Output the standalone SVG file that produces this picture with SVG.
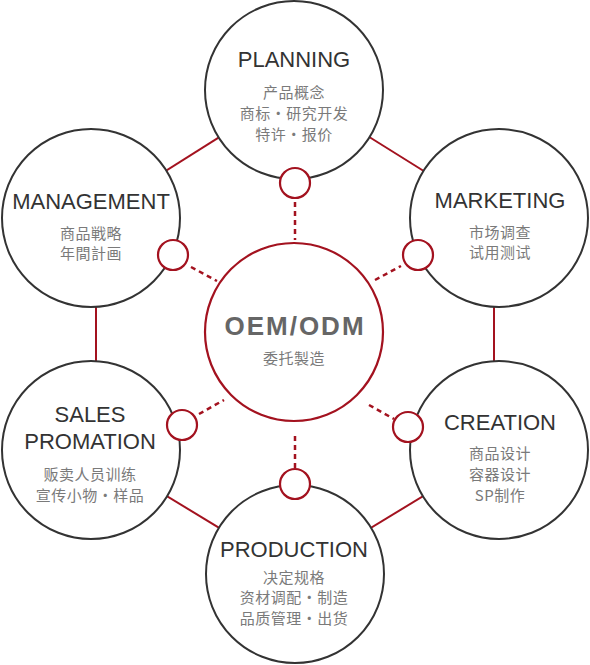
<svg xmlns="http://www.w3.org/2000/svg" width="590" height="665" viewBox="0 0 590 665">
<style>
.bg{fill:#fff}
.node{fill:#fff;stroke:#333;stroke-width:2}
.core{fill:#fff;stroke:#a3121f;stroke-width:2.2}
.dot{fill:#fff;stroke:#a3121f;stroke-width:2.2}
.link{stroke:#a3121f;stroke-width:2;fill:none}
.dash{stroke:#a3121f;stroke-width:2.5;stroke-dasharray:5 4;fill:none}
.title{font-family:"Liberation Sans",Arial,sans-serif;font-size:22px;fill:#333;text-anchor:middle}
.sub{font-family:"Noto Sans CJK SC","Noto Sans CJK JP",sans-serif;font-size:15px;fill:#7a7a7a;text-anchor:middle;letter-spacing:0.5px}
.big{font-family:"Liberation Sans",Arial,sans-serif;font-size:26px;font-weight:bold;fill:#666;text-anchor:middle;letter-spacing:2px}
</style>
<rect class="bg" x="0" y="0" width="590" height="665"/>
<g id="connectors">
<line class="link" x1="294" y1="90" x2="499" y2="218"/>
<line class="link" x1="294" y1="90" x2="91" y2="218"/>
<line class="link" x1="494" y1="290" x2="494" y2="380"/>
<line class="link" x1="96" y1="290" x2="96" y2="380"/>
<line class="link" x1="91" y1="450" x2="295" y2="574"/>
<line class="link" x1="499" y1="450" x2="295" y2="574"/>
<line class="dash" x1="295" y1="202" x2="295" y2="240"/>
<line class="dash" x1="191" y1="267" x2="217" y2="281"/>
<line class="dash" x1="375" y1="280" x2="401" y2="266"/>
<line class="dash" x1="199" y1="414" x2="224" y2="400"/>
<line class="dash" x1="369" y1="405" x2="394" y2="419"/>
<line class="dash" x1="295" y1="436" x2="295" y2="468"/>
</g>
<g id="planning">
<circle class="node" cx="294" cy="90" r="89"/>
<circle class="dot" cx="295" cy="183" r="15"/>
<text class="title" x="294" y="67">PLANNING</text>
<text class="sub" x="294" y="98">产品概念</text>
<text class="sub" x="294" y="119">商标・研究开发</text>
<text class="sub" x="294" y="140">特许・报价</text>
</g>
<g id="management">
<circle class="node" cx="91" cy="218" r="89"/>
<circle class="dot" cx="173" cy="255" r="15"/>
<text class="title" x="91" y="209">MANAGEMENT</text>
<text class="sub" x="91" y="239">商品戦略</text>
<text class="sub" x="91" y="259">年間計画</text>
</g>
<g id="marketing">
<circle class="node" cx="499" cy="218" r="89"/>
<circle class="dot" cx="418" cy="255" r="15"/>
<text class="title" x="500" y="208">MARKETING</text>
<text class="sub" x="500" y="238">市场调查</text>
<text class="sub" x="500" y="258">试用测试</text>
</g>
<g id="sales">
<circle class="node" cx="91" cy="450" r="89"/>
<circle class="dot" cx="182" cy="425" r="15"/>
<text class="title" x="90" y="422">SALES</text>
<text class="title" x="90" y="449">PROMATION</text>
<text class="sub" x="90" y="480">贩卖人员训练</text>
<text class="sub" x="90" y="501">宣传小物・样品</text>
</g>
<g id="creation">
<circle class="node" cx="499" cy="450" r="89"/>
<circle class="dot" cx="408" cy="427" r="15"/>
<text class="title" x="500" y="430">CREATION</text>
<text class="sub" x="500" y="459">商品设计</text>
<text class="sub" x="500" y="480">容器设计</text>
<text class="sub" x="500" y="501">SP制作</text>
</g>
<g id="production">
<circle class="node" cx="295" cy="574" r="89"/>
<circle class="dot" cx="295" cy="484" r="15"/>
<text class="title" x="294" y="557">PRODUCTION</text>
<text class="sub" x="294" y="583">决定规格</text>
<text class="sub" x="294" y="603">资材调配・制造</text>
<text class="sub" x="294" y="624">品质管理・出货</text>
</g>
<g id="oem">
<circle class="core" cx="294" cy="332" r="89"/>
<text class="big" x="295" y="335">OEM/ODM</text>
<text class="sub" x="294" y="364">委托製造</text>
</g>
</svg>
